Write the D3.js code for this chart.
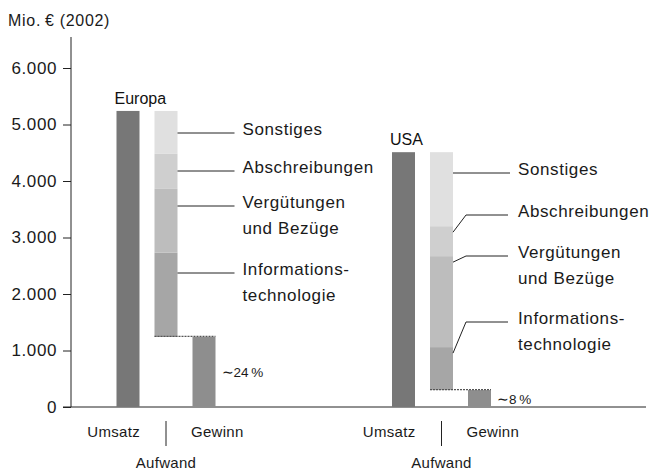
<!DOCTYPE html>
<html>
<head>
<meta charset="utf-8">
<script src="https://cdn.jsdelivr.net/npm/d3@7"></script>
<style>
  body { margin: 0; background: #fff; }
  svg { font-family: "Liberation Sans", Arial, sans-serif; }
</style>
</head>
<body>
<div id="chart"></div>
<script>
const regions = ["Europa", "USA"];
const columns = ["Umsatz", "Aufwand", "Gewinn"];
const umsatz = [5240, 4510];
const gewinn = [1240, 300];
// cost blocks, bottom to top
const costNames = ["Informationstechnologie", "Vergütungen und Bezüge", "Abschreibungen", "Sonstiges"];
const costLabels = [["Informations-", "technologie"], ["Vergütungen", "und Bezüge"], ["Abschreibungen"], ["Sonstiges"]];
const itCost = [1490, 760];
const verguetung = [1130, 1610];
const abschreibung = [620, 530];
const sonstiges = [760, 1310];
const marginText = ["\u223C24\u2009%", "\u223C8\u2009%"];
const yTicks = [0, 1000, 2000, 3000, 4000, 5000, 6000];

const W = 652, H = 473;
const costColors = ["#a6a6a6", "#bdbdbd", "#cfcfcf", "#e0e0e0"];

const svg = d3.select("#chart").append("svg")
  .attr("width", W)
  .attr("height", H);

const y = d3.scaleLinear().domain([0, 6000]).range([407, 68]);
const xGroup = d3.scalePoint().domain(regions).range([166, 441.5]);
const xCol = d3.scalePoint().domain(columns).range([-38, 38]);
const barW = 23;
const cx = (r, c) => xGroup(r) + xCol(c);

// german number format
const de = d3.formatLocale({ decimal: ",", thousands: ".", grouping: [3], currency: ["", " €"] });

// y axis
const yAxis = svg.append("g")
  .attr("transform", "translate(71,0)")
  .call(d3.axisLeft(y).tickValues(yTicks).tickFormat(de.format(",d")).tickSize(8).tickPadding(6));
yAxis.select(".domain").remove();
yAxis.selectAll(".tick line").attr("stroke", "#222");
yAxis.selectAll(".tick text")
  .attr("fill", "#1a1a1a")
  .style("font-size", "17px")
  .style("letter-spacing", "0.6px")
  .style("font-family", "Liberation Sans, Arial, sans-serif");

svg.append("line")
  .attr("x1", 71).attr("x2", 71)
  .attr("y1", 37).attr("y2", y(0))
  .attr("stroke", "#222");
svg.append("line")
  .attr("x1", 63).attr("x2", 646)
  .attr("y1", y(0)).attr("y2", y(0))
  .attr("stroke", "#222");

svg.append("text")
  .attr("x", 8).attr("y", 26)
  .attr("fill", "#1a1a1a")
  .style("font-size", "16px")
  .style("letter-spacing", "0.7px")
  .text("Mio.\u2009€ (2002)");

// leader layout per region (label line y in px)
const leaderY = [[273, 206, 171, 133], [322, 256, 215, 173]];

regions.forEach((r, i) => {
  // Umsatz
  svg.append("rect")
    .attr("x", cx(r, "Umsatz") - barW / 2)
    .attr("y", y(umsatz[i]))
    .attr("width", barW)
    .attr("height", y(0) - y(umsatz[i]))
    .attr("fill", "#777777");

  // Gewinn
  svg.append("rect")
    .attr("x", cx(r, "Gewinn") - barW / 2)
    .attr("y", y(gewinn[i]))
    .attr("width", barW)
    .attr("height", y(0) - y(gewinn[i]))
    .attr("fill", "#8e8e8e");

  // Aufwand stack, floating on top of Gewinn
  const vals = [itCost[i], verguetung[i], abschreibung[i], sonstiges[i]];
  let base = gewinn[i];
  const segs = vals.map((v, k) => {
    const s = { name: costNames[k], y0: base, y1: base + v, k };
    base += v;
    return s;
  });

  const ax = cx(r, "Aufwand") - barW / 2;
  svg.selectAll(null)
    .data(segs)
    .enter()
    .append("rect")
    .attr("x", ax)
    .attr("y", d => y(d.y1))
    .attr("width", barW)
    .attr("height", d => y(d.y0) - y(d.y1))
    .attr("fill", d => costColors[d.k]);

  // dotted connector
  svg.append("line")
    .attr("x1", ax)
    .attr("x2", cx(r, "Gewinn") + barW / 2)
    .attr("y1", y(gewinn[i]) - 0.5)
    .attr("y2", y(gewinn[i]) - 0.5)
    .attr("stroke", "#555")
    .attr("stroke-width", 1.2)
    .attr("stroke-dasharray", "2,1");

  // margin label
  svg.append("text")
    .attr("x", cx(r, "Gewinn") + barW / 2 + 6)
    .attr("y", y(gewinn[i] / 2) + 5)
    .attr("fill", "#1a1a1a")
    .style("font-size", "13.5px")
    .text(marginText[i]);

  // region name
  svg.append("text")
    .attr("x", cx(r, "Umsatz") - barW / 2 - 2)
    .attr("y", y(umsatz[i]) - 7)
    .attr("fill", "#111")
    .style("font-size", "16px")
    .text(r);

  // leaders and labels
  const right = ax + barW;
  segs.forEach((s, k) => {
    const ly = leaderY[i][k];
    const anchor = Math.max(ly, y(s.y1) + 6);
    const pts = anchor === ly
      ? [[right, ly], [right + 57, ly]]
      : [[right, anchor], [right + 13, ly], [right + 55, ly]];
    svg.append("path")
      .attr("d", d3.line()(pts))
      .attr("fill", "none")
      .attr("stroke", "#222")
      .attr("stroke-width", 1);
    const t = svg.append("text")
      .attr("x", right + 65)
      .attr("y", ly + 2)
      .attr("fill", "#1a1a1a")
      .style("font-size", "17px")
      .style("letter-spacing", "0.6px");
    costLabels[k].forEach((line, j) => {
      t.append("tspan")
        .attr("x", right + 65)
        .attr("dy", j === 0 ? 0 : 26)
        .text(line);
    });
  });

  // category labels
  const c = xGroup(r);
  svg.append("text")
    .attr("x", c - 26).attr("y", 437)
    .attr("text-anchor", "end")
    .attr("fill", "#1a1a1a")
    .style("font-size", "15px")
    .style("letter-spacing", "0.3px")
    .text("Umsatz");
  svg.append("text")
    .attr("x", c + 25).attr("y", 437)
    .attr("fill", "#1a1a1a")
    .style("font-size", "15px")
    .style("letter-spacing", "0.3px")
    .text("Gewinn");
  svg.append("text")
    .attr("x", c).attr("y", 468)
    .attr("text-anchor", "middle")
    .attr("fill", "#1a1a1a")
    .style("font-size", "15px")
    .style("letter-spacing", "0.3px")
    .text("Aufwand");
  svg.append("line")
    .attr("x1", c).attr("x2", c)
    .attr("y1", 421).attr("y2", 446)
    .attr("stroke", "#222");
});
</script>
</body>
</html>
